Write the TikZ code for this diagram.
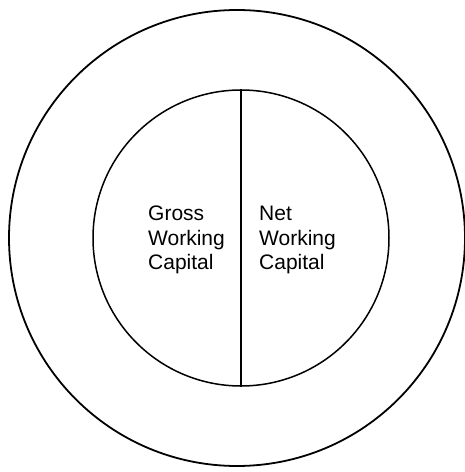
\documentclass[tikz,border=0pt]{standalone}
\usepackage{fontspec}
\setmainfont{Liberation Sans}
\begin{document}
\begin{tikzpicture}[x=1pt,y=1pt,
  ring/.style={circle, draw=black, inner sep=0pt},
  lbl/.style={anchor=base west, inner sep=0pt, font=\fontsize{21}{24}\selectfont}]
\useasboundingbox (0,0) rectangle (465,472);
\node[ring, line width=1.8pt, minimum size=456pt] (outer) at (237,234) {};
\node[ring, line width=1.5pt, minimum size=296pt] (inner) at (241,234) {};
\draw[line width=1.6pt] (inner.north) -- (inner.south);
\node[lbl] (g1) at (148,251) {Gross};
\node[lbl] (g2) at (148,226) {Working};
\node[lbl] (g3) at (148,202) {Capital};
\node[lbl] (n1) at (259,251) {Net};
\node[lbl] (n2) at (259,226) {Working};
\node[lbl] (n3) at (259,202) {Capital};
\end{tikzpicture}
\end{document}
